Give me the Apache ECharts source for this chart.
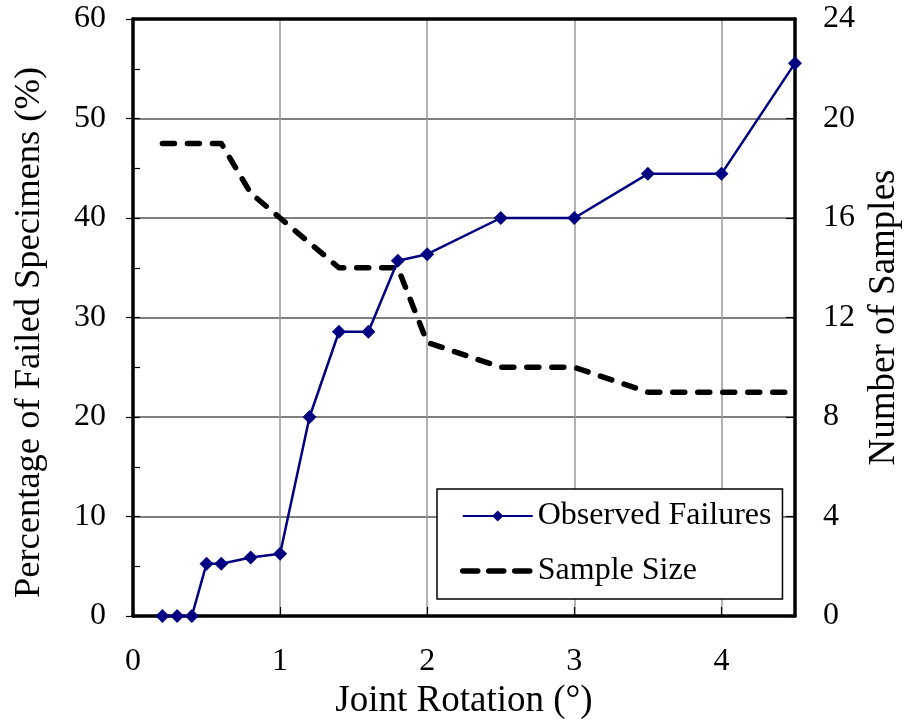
<!DOCTYPE html>
<html>
<head>
<meta charset="utf-8">
<script src="https://cdn.jsdelivr.net/npm/echarts@6/dist/echarts.min.js"></script>
<style>
  html, body { margin: 0; padding: 0; background: #fff; }
  #chart { width: 904px; height: 727px; }
</style>
</head>
<body>
<div id="chart"></div>
<script>
// Joint rotation (degrees) at each observation
const rotation = [0.2, 0.3, 0.4, 0.5, 0.6, 0.8, 1.0, 1.2, 1.4, 1.6, 1.8, 2.0, 2.5, 3.0, 3.5, 4.0, 4.5];
// Percentage of specimens that failed (%)
const failedPct = [0, 0, 0, 5.26, 5.26, 5.88, 6.25, 20.0, 28.57, 28.57, 35.71, 36.36, 40.0, 40.0, 44.44, 44.44, 55.56];
// Number of specimens in the sample
const sampleSize = [19, 19, 19, 19, 19, 17, 16, 15, 14, 14, 14, 11, 10, 10, 9, 9, 9];

const xTicks = [0, 1, 2, 3, 4];
const leftTicks = [0, 10, 20, 30, 40, 50, 60];
const rightTicks = [0, 4, 8, 12, 16, 20, 24];

const FONT = "'Liberation Serif', 'Times New Roman', serif";
const FRAME = { show: true, onZero: false, lineStyle: { color: '#000', width: 3.5 } };
const TICK_STYLE = { color: '#000', width: 1.2 };

const pairs = (xs, ys) => xs.map((x, i) => [x, ys[i]]);

const chart = echarts.init(document.getElementById('chart'), null, { renderer: 'canvas' });

chart.setOption({
  animation: false,
  backgroundColor: '#fff',
  grid: {
    left: 133, right: 109, top: 19, bottom: 111,
    outerBoundsMode: 'none',
    containLabel: false
  },
  xAxis: [
    {
      type: 'value', position: 'bottom',
      min: xTicks[0], max: 4.5, interval: 1,
      name: 'Joint Rotation (°)',
      nameLocation: 'middle', nameGap: 44,
      nameTextStyle: { fontFamily: FONT, fontSize: 37, color: '#000' },
      axisLine: FRAME,
      axisTick: { show: true, inside: true, length: 9, lineStyle: TICK_STYLE },
      axisLabel: {
        margin: 30, fontFamily: FONT, fontSize: 32, color: '#000', showMaxLabel: false,
        formatter: v => (xTicks.indexOf(v) >= 0 ? String(v) : '')
      },
      splitLine: { show: true, lineStyle: { color: '#999', width: 1.5 } }
    },
    {
      // top edge of the frame
      type: 'value', position: 'top',
      min: xTicks[0], max: 4.5, interval: 1,
      axisLine: FRAME,
      axisTick: { show: false },
      axisLabel: { show: false },
      splitLine: { show: false }
    }
  ],
  yAxis: [
    {
      type: 'value', position: 'left',
      min: leftTicks[0], max: leftTicks[leftTicks.length - 1], interval: 10,
      name: 'Percentage of Failed Specimens (%)',
      nameLocation: 'middle', nameGap: 85, nameRotate: 90,
      nameTextStyle: { fontFamily: FONT, fontSize: 36.5, color: '#000', padding: [0, 30, 0, 0] },
      axisLine: FRAME,
      axisTick: { show: true, inside: false, length: 7, lineStyle: TICK_STYLE },
      axisLabel: { margin: 27, fontFamily: FONT, fontSize: 32, color: '#000' },
      splitLine: { show: true, lineStyle: { color: '#555', width: 1.5 } }
    },
    {
      type: 'value', position: 'right',
      min: rightTicks[0], max: rightTicks[rightTicks.length - 1], interval: 4,
      name: 'Number of Samples',
      nameLocation: 'middle', nameGap: 64, nameRotate: 90,
      nameTextStyle: { fontFamily: FONT, fontSize: 37, color: '#000' },
      axisLine: FRAME,
      axisTick: { show: true, inside: true, length: 9, lineStyle: TICK_STYLE },
      axisLabel: { margin: 28, fontFamily: FONT, fontSize: 32, color: '#000' },
      splitLine: { show: false }
    },
    {
      // inward half-step ticks along the left edge
      type: 'value', position: 'left',
      min: leftTicks[0], max: leftTicks[leftTicks.length - 1], interval: 5,
      axisLine: { show: false },
      axisTick: { show: true, inside: true, length: 7, lineStyle: TICK_STYLE },
      axisLabel: { show: false },
      splitLine: { show: false }
    }
  ],
  legend: {
    orient: 'vertical',
    left: 437, top: 489,
    padding: [10, 11, 11, 23],
    itemGap: 21,
    itemWidth: 70, itemHeight: 14,
    borderColor: '#000', borderWidth: 1.5,
    backgroundColor: '#fff',
    textStyle: { fontFamily: FONT, fontSize: 32, color: '#000', lineHeight: 34 },
    data: [
      { name: 'Observed Failures' },
      {
        name: 'Sample Size',
        itemStyle: { opacity: 0 },
        lineStyle: { color: '#000', width: 5.5, type: [15, 11], cap: 'round' }
      }
    ]
  },
  series: [
    {
      name: 'Sample Size',
      type: 'line',
      yAxisIndex: 1,
      data: pairs(rotation, sampleSize),
      symbol: 'none',
      clip: false,
      lineStyle: { color: '#000', width: 5.5, type: [12, 13], cap: 'round', join: 'round' },
      itemStyle: { color: '#000' },
      z: 3
    },
    {
      name: 'Observed Failures',
      type: 'line',
      yAxisIndex: 0,
      data: pairs(rotation, failedPct),
      symbol: 'diamond',
      symbolSize: 14,
      clip: false,
      lineStyle: { color: '#000080', width: 2.5 },
      itemStyle: { color: '#000080' },
      z: 4
    }
  ]
});
</script>
</body>
</html>
